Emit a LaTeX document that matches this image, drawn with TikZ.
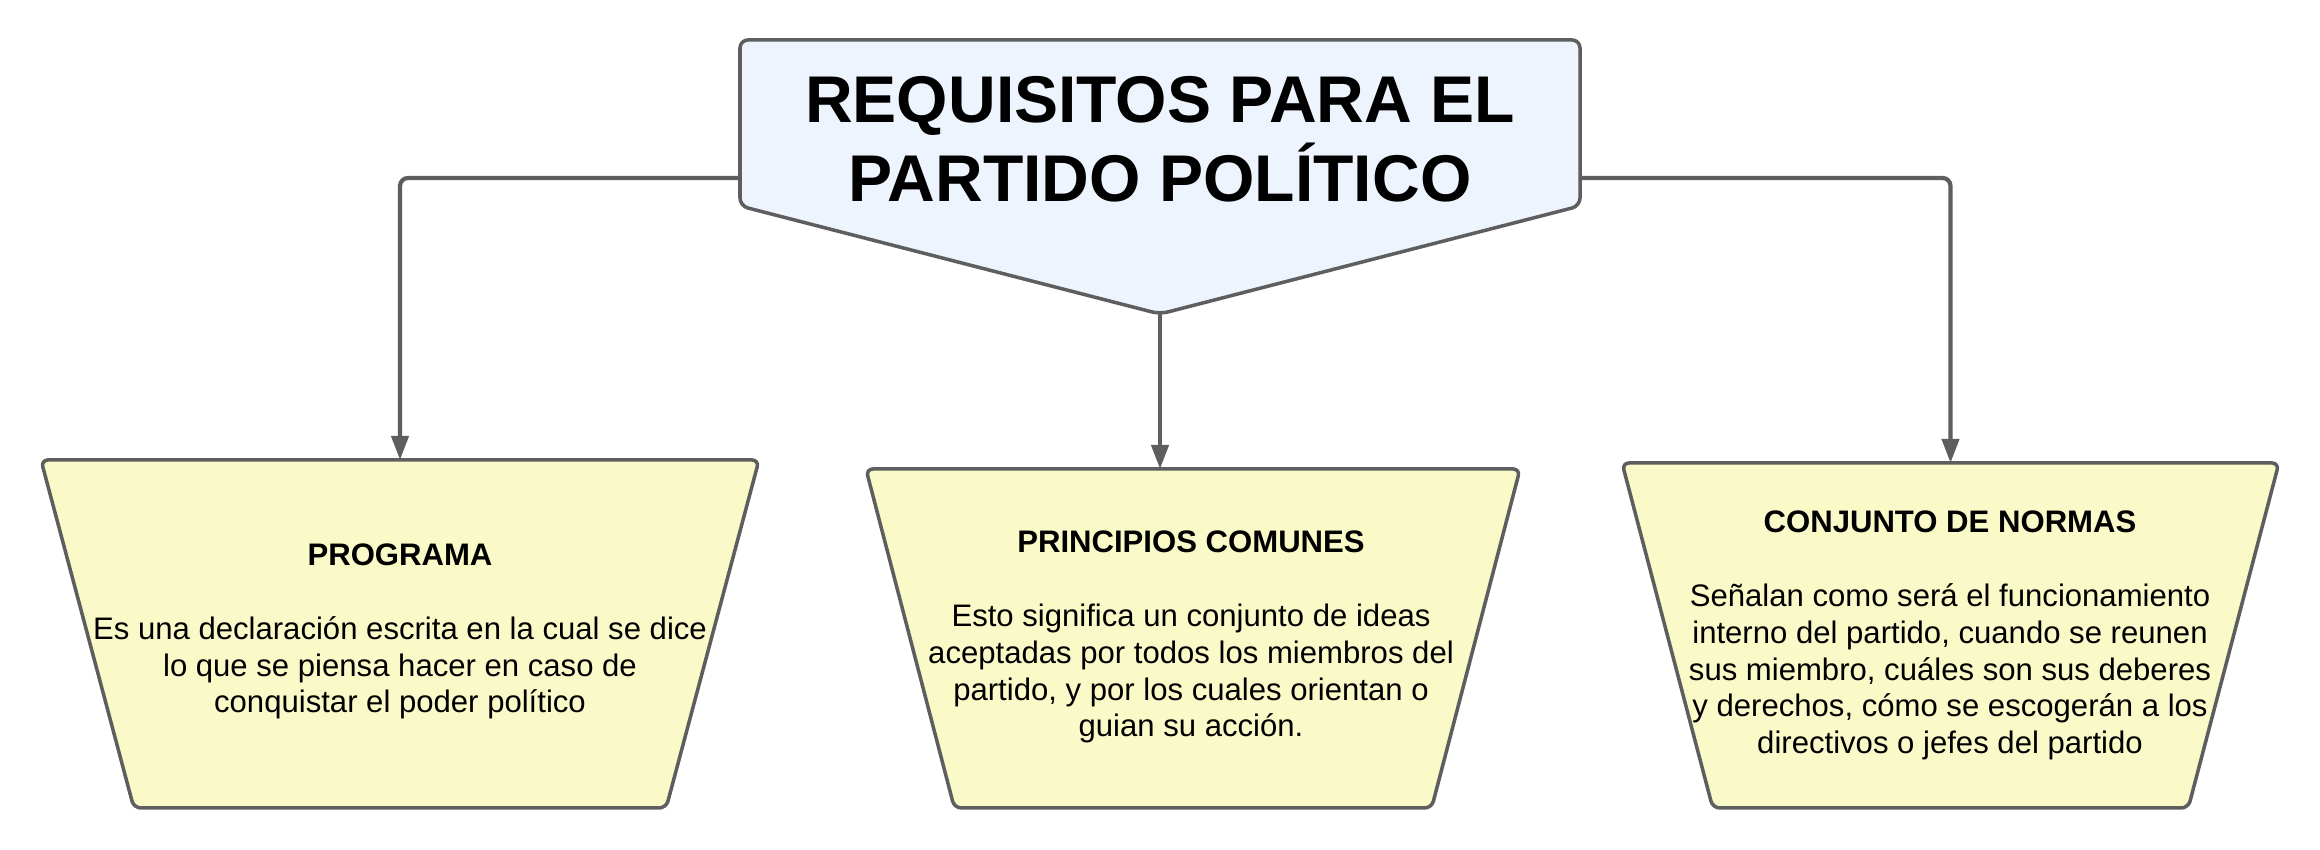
\documentclass[tikz,border=0pt]{standalone}
\usepackage{fontspec}
\setmainfont{Liberation Sans}
\usetikzlibrary{positioning,arrows.meta,calc,shapes.geometric}
\definecolor{linegray}{HTML}{5E5E5E}
\definecolor{titlefill}{HTML}{EDF4FE}
\definecolor{boxfill}{HTML}{FAF9C8}

\tikzset{
  titleshape/.style={draw=linegray, fill=titlefill, line width=1pt, rounded corners=0.08cm},
  reqbox/.style={trapezium, trapezium left angle=#1, trapezium right angle=#1,
    shape border rotate=180, trapezium stretches=true, draw=linegray, fill=boxfill,
    line width=1pt, rounded corners=0.07cm, inner sep=2pt, outer sep=0pt},
  reqtext/.style={align=center, font=\fontsize{8.85}{10.5}\selectfont},
  conn/.style={draw=linegray, line width=1.2pt, rounded corners=0.08cm,
    -{Triangle[length=0.24cm,width=0.17cm]}}
}

\begin{document}
\begin{tikzpicture}[x=1cm,y=1cm]
\useasboundingbox (0,0) rectangle (23.2,8.5);
% title
\draw[titleshape] (7.40,8.10) -- (15.80,8.10) -- (15.80,6.44) -- (11.60,5.36) -- (7.40,6.44) -- cycle;
\node[align=center, font=\fontsize{18.8}{22.4}\selectfont\bfseries] (title) at (11.60,7.11) {REQUISITOS PARA EL\\PARTIDO POLÍTICO};
\coordinate (tleft) at (7.40,6.72);
\coordinate (tright) at (15.80,6.72);
\coordinate (tip) at (11.60,5.36);

% requisitos
\node[reqbox=80.1, minimum width=7.18cm, minimum height=3.48cm] (prog) at (4.00,2.16) {};
\node[reqbox=79.5, minimum width=6.54cm, minimum height=3.39cm] (princ) at (11.93,2.115) {};
\node[reqbox=79.2, minimum width=6.57cm, minimum height=3.45cm] (normas) at (19.505,2.145) {};

\node[reqtext] (progtxt) at (4.00,2.185) {\textbf{PROGRAMA}\\[0.37cm]
  Es una declaración escrita en la cual se dice\\
  lo que se piensa hacer en caso de\\
  conquistar el poder político};
\node[reqtext] (princtxt) at (11.91,2.13) {\textbf{PRINCIPIOS COMUNES}\\[0.37cm]
  Esto significa un conjunto de ideas\\
  aceptadas por todos los miembros del\\
  partido, y por los cuales orientan o\\
  guian su acción.};
\node[reqtext] (normastxt) at (19.50,2.145) {\textbf{CONJUNTO DE NORMAS}\\[0.37cm]
  Señalan como será el funcionamiento\\
  interno del partido, cuando se reunen\\
  sus miembro, cuáles son sus deberes\\
  y derechos, cómo se escogerán a los\\
  directivos o jefes del partido};

% conectores
\draw[conn] (tleft) -| (prog.north);
\draw[conn] (tip) -- (tip |- princ.north);
\draw[conn] (tright) -| (normas.north);
\end{tikzpicture}
\end{document}
